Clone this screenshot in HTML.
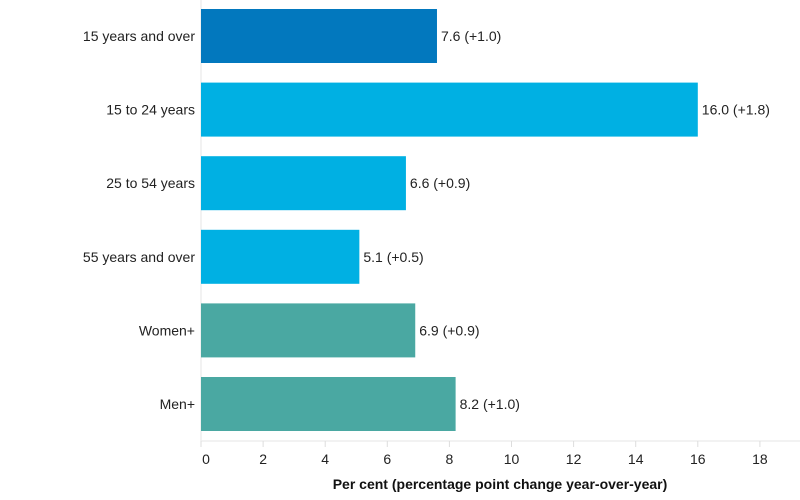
<!DOCTYPE html>
<html><head><meta charset="utf-8"><style>
body{margin:0;background:#fff;}
svg{display:block;font-family:"Liberation Sans",sans-serif;}
</style></head><body>
<svg id="chart" width="800" height="500"></svg>
<script>
const categories=["15 years and over","15 to 24 years","25 to 54 years","55 years and over","Women+","Men+"];
const values=[7.6,16.0,6.6,5.1,6.9,8.2];
const changes=["+1.0","+1.8","+0.9","+0.5","+0.9","+1.0"];
const colors=["#0278be","#00b0e3","#00b0e3","#00b0e3","#4aa8a2","#4aa8a2"];
const ticks=[0,2,4,6,8,10,12,14,16,18];
const NS="http://www.w3.org/2000/svg";
const svg=document.getElementById("chart");
const x0=201,pxPer=31.05;
function xs(v){return x0+v*pxPer;}
function ys(i){return 9+i*73.6;}
const bh=54;
function mk(t,a,p){const e=document.createElementNS(NS,t);for(const k in a)e.setAttribute(k,a[k]);(p||svg).appendChild(e);return e;}
let ax=mk("line",{x1:x0,y1:0,x2:x0,y2:441,stroke:"#eee","stroke-width":1.5});


let bx=mk("line",{x1:x0,y1:441,x2:800,y2:441,stroke:"#eee","stroke-width":1.5});


ticks.forEach(t=>{
 const tl=mk("line",{x1:xs(t),y1:441,x2:xs(t),y2:447,stroke:"#ddd"});
 
 
 const tx=mk("text",{x:t===0?xs(t)+5:xs(t),y:464,"text-anchor":"middle","font-size":14,fill:"#222"});
 tx.textContent=t;
 
 
});
categories.forEach((c,i)=>{
 const y=ys(i);
 const r=mk("rect",{x:x0,y:y,width:xs(values[i])-x0,height:bh,fill:colors[i]});
 
 
 const l=mk("text",{x:195,y:y+bh/2+5,"text-anchor":"end","font-size":14,fill:"#222"});
 l.textContent=c;
 
 
 const v=mk("text",{x:xs(values[i])+4,y:y+bh/2+5,"font-size":14,fill:"#222"});
 v.textContent=values[i].toFixed(1)+" ("+changes[i]+")";
 
 
});
const tt=mk("text",{x:500,y:489,"text-anchor":"middle","font-size":14,"font-weight":"bold",fill:"#111"});
tt.textContent="Per cent (percentage point change year-over-year)";


</script>
</body></html>
